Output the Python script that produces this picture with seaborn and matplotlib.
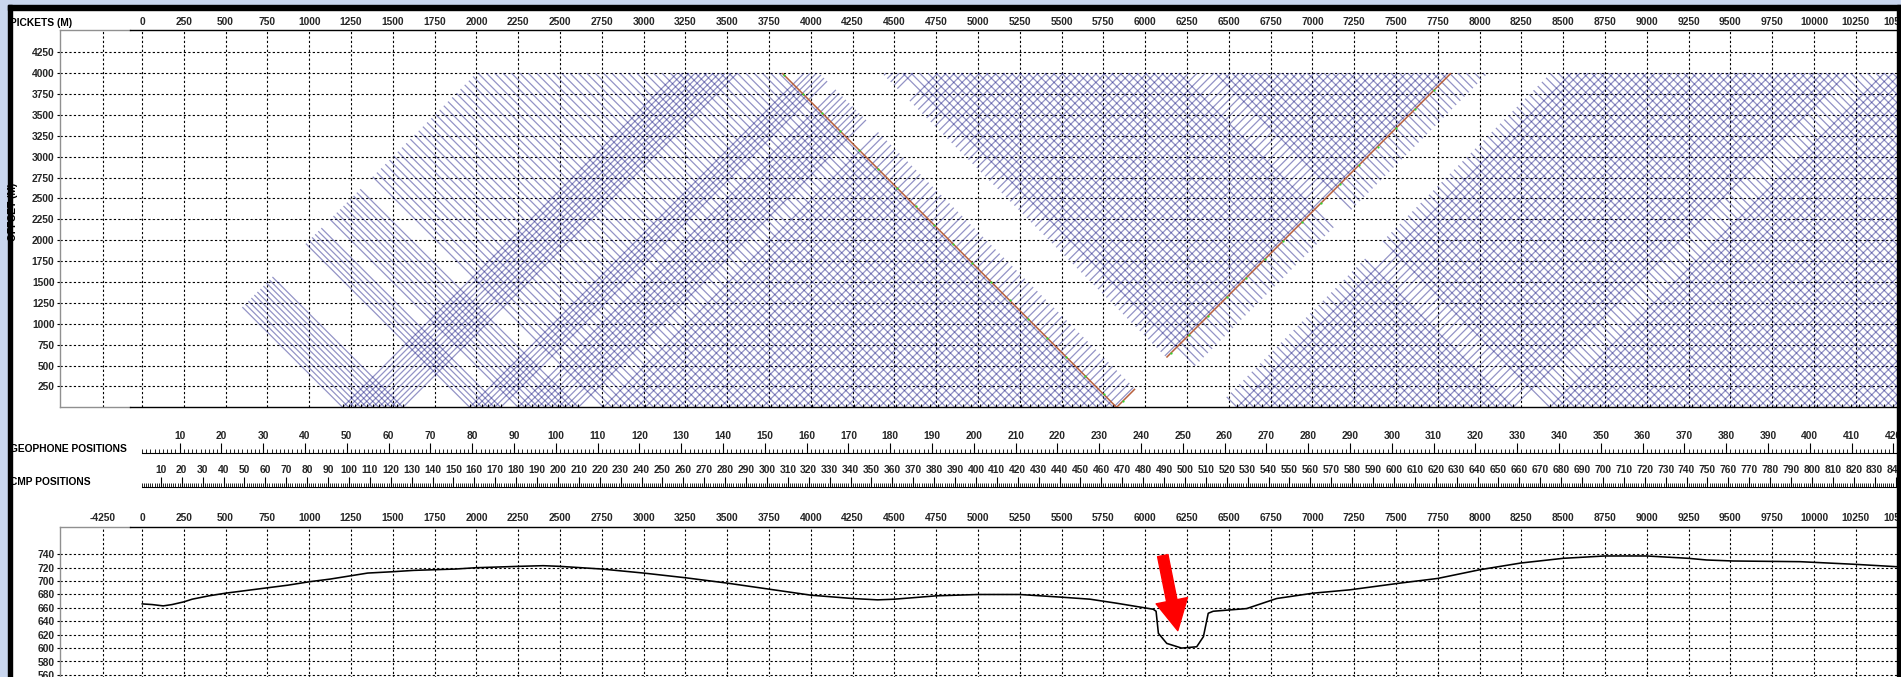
import numpy as np
import pandas as pd
import matplotlib
matplotlib.use("Agg")
import matplotlib.pyplot as plt
from matplotlib.collections import LineCollection
from matplotlib.patches import Rectangle
from matplotlib.ticker import FixedLocator
import seaborn as sns

sns.set_theme(style="white")
plt.rcParams["font.family"] = ["Liberation Sans", "DejaVu Sans"]
plt.rcParams["font.weight"] = "bold"
plt.rcParams["font.size"] = 7.4

# ---------------------------------------------------------------- survey data
picket_ticks = list(range(0, 10501, 250))
offset_ticks = list(range(250, 4251, 250))
elev_ticks = list(range(560, 741, 20))
geophone_ticks = list(range(10, 421, 10))
cmp_ticks = list(range(10, 841, 10))
stub_picket = -4250

geophone_first, geophone_last, geophone_spacing = 1, 580, 25.0
cmp_first, cmp_last, cmp_spacing = 1, 1160, 12.5
receiver_gap = (6060.0, 6420.0)       # no geophones laid across the ravine
max_offset = 4000.0

# shot groups along the line (first picket, last picket, interval)
shot_first = [1200, 1960, 2250, 2760, 6550, 8420]
shot_last = [1560, 2180, 2610, 5829, 8200, 14500]
shot_step = [36, 37, 40, 50, 50, 50]
highlight_shot = 5829

# surface elevation along the line
profile_dist = [0, 60, 127, 180, 250, 300, 400, 500, 625, 750, 875, 1000, 1125,
                1250, 1350, 1500, 1625, 1750, 1875, 2000, 2250, 2400, 2500,
                2750, 3000, 3250, 3500, 3750, 4000, 4250, 4400, 4500, 4750,
                5000, 5250, 5500, 5670, 5829, 6048, 6065, 6079, 6129, 6218,
                6308, 6348, 6377, 6407, 6607, 6786, 7005, 7225, 7524, 7750,
                8002, 8247, 8500, 8748, 9000, 9248, 9358, 9517, 9916, 10249,
                10494, 10600]
profile_elev = [666, 665, 663, 665, 669, 673, 678, 682, 686, 690, 694, 699, 703,
                708, 712, 714, 716, 717, 718, 720, 722, 723, 722,
                718, 712, 705, 697, 688, 679, 674, 672, 673, 678,
                680, 680, 676, 673, 667, 658, 655, 622, 607, 600,
                602, 617, 652, 655, 659, 674, 682, 687, 697, 704,
                717, 727, 734, 737.5, 737.5, 734, 731.5, 730, 729, 725,
                721.5, 720.5]

# ---------------------------------------------------------------- geometry
W, H = 1901, 677
fig = plt.figure(figsize=(W / 100, H / 100), dpi=100, facecolor="#c9d6ee")

X0_PX, XS = 142.0, 0.1672          # pixel of picket 0, pixels per metre


def rect(left, top, right, bottom):
    return [left / W, 1 - bottom / H, (right - left) / W, (bottom - top) / H]


def main_xlim():
    return ((130 - X0_PX) / XS, (W - X0_PX) / XS)


def stub_xlim():
    return (stub_picket - (103 - 60) / XS, stub_picket + (130 - 103) / XS)


# page background and window frame
fig.add_artist(Rectangle((12 / W, 0), (1897 - 12) / W, 1 - 10 / H,
                         transform=fig.transFigure, color="white", zorder=-5))
for l, t, r, b in [(8, 5, 12, H), (8, 5, W, 10), (1897, 5, W, H)]:
    fig.add_artist(Rectangle((l / W, 1 - b / H), (r - l) / W, (b - t) / H,
                             transform=fig.transFigure, color="black", zorder=10))

grid_kw = dict(color="black", linestyle=(0, (2, 2)), linewidth=0.8)
label_kw = dict(fontsize=7.4, fontweight="bold", color="black")


def bold(ax):
    for t in ax.get_xticklabels() + ax.get_yticklabels():
        t.set_fontweight("bold")


def style_pair(stub, main, yticks, ylim, stub_label):
    for ax in (stub, main):
        ax.set_facecolor("none")
        ax.set_yticks(yticks)
        ax.set_ylim(*ylim)
        ax.grid(True, **grid_kw)
        ax.set_axisbelow(True)
        ax.xaxis.tick_top()
        ax.spines["right"].set_visible(False)
    stub.set_xticks([stub_picket])
    stub.set_xticklabels([stub_label])
    stub.set_xlim(*stub_xlim())
    stub.set_yticklabels([str(v) for v in yticks])
    for sp in ("top", "bottom", "left"):
        stub.spines[sp].set_color("#909090")
        stub.spines[sp].set_linewidth(1.0)
    stub.tick_params(axis="x", length=0, pad=2.5, labelsize=7.4)
    stub.tick_params(axis="y", length=2.5, width=0.8, pad=1.5, labelsize=7.4,
                     left=True, color="black")
    main.set_xticks(picket_ticks)
    main.set_xlim(*main_xlim())
    main.set_yticklabels([])
    main.spines["left"].set_visible(False)
    for sp in ("top", "bottom"):
        main.spines[sp].set_color("black")
        main.spines[sp].set_linewidth(1.0)
    main.tick_params(axis="x", length=0, pad=2.5, labelsize=7.4)
    main.tick_params(axis="y", length=0)
    bold(stub)
    bold(main)


# ---------------------------------------------------------------- stacking chart
stack_ylim = (0, (407.3 - 30) / 0.08353)
ax_sstub = fig.add_axes(rect(60, 30, 130, 407.3))
ax_stack = fig.add_axes(rect(130, 30, W, 407.3))
style_pair(ax_sstub, ax_stack, offset_ticks, stack_ylim, "")

receivers = (np.arange(geophone_first, geophone_last + 1) - 1) * geophone_spacing
live = receivers[(receivers < receiver_gap[0]) | (receivers > receiver_gap[1])]
breaks = np.where(np.diff(live) > 1.5 * geophone_spacing)[0]
run_lo = np.r_[live[0], live[breaks + 1]]
run_hi = np.r_[live[breaks], live[-1]]

shots = np.concatenate([np.arange(f, l + 1, st) for f, l, st in
                        zip(shot_first, shot_last, shot_step)]).astype(float)


def shot_segments(s):
    segs = []
    for lo, hi in zip(run_lo, run_hi):
        a, b = max(lo, s - max_offset), min(hi, s)
        if b > a:
            segs.append([((s + a) / 2, s - a), ((s + b) / 2, s - b)])
        a, b = max(lo, s), min(hi, s + max_offset)
        if b > a:
            segs.append([((s + a) / 2, a - s), ((s + b) / 2, b - s)])
    return segs


all_segs = [seg for s in shots for seg in shot_segments(s)]
ax_stack.add_collection(LineCollection(all_segs, colors="#101080", alpha=0.45,
                                       linewidths=0.9, zorder=2))
ax_stack.vlines(shots, 0, 45, color="black", lw=0.8, zorder=3)

hl = shot_segments(float(highlight_shot))
ax_stack.add_collection(LineCollection(hl, colors="#b8603c", linewidths=1.1,
                                       zorder=4))
hr = live[np.abs(live - highlight_shot) <= max_offset][::9]
ax_stack.scatter((hr + highlight_shot) / 2, np.abs(hr - highlight_shot), s=2.5,
                 color="#2fd82f", zorder=5, linewidths=0)
ax_stack.set_xlim(*main_xlim())
ax_stack.set_ylim(*stack_ylim)

# ---------------------------------------------------------------- position rulers
def ruler(top_px, first, last, spacing, ticks, major_len, minor_len):
    n_right = first + (W - X0_PX) / (spacing * XS)
    ax = fig.add_axes(rect(X0_PX, top_px, W, top_px + 1))
    ax.set_facecolor("none")
    ax.set_yticks([])
    for sp in ("left", "right", "bottom"):
        ax.spines[sp].set_visible(False)
    ax.spines["top"].set_color("black")
    ax.spines["top"].set_linewidth(0.8)
    ax.xaxis.tick_top()
    ax.set_xticks(ticks)
    ax.xaxis.set_minor_locator(FixedLocator(list(range(first, last + 1))))
    ax.set_xlim(first, n_right)
    ax.tick_params(axis="x", which="major", direction="out", length=major_len,
                   width=0.8, pad=1.5, labelsize=7.4, color="black")
    ax.tick_params(axis="x", which="minor", direction="out", length=minor_len,
                   width=0.6, color="black")
    bold(ax)
    return ax


ruler(453.3, geophone_first, geophone_last, geophone_spacing, geophone_ticks, 7.0, 2.8)
ruler(486.7, cmp_first, cmp_last, cmp_spacing, cmp_ticks, 7.0, 3.2)

fig.text(10 / W, 1 - 23 / H, "PICKETS (M)", ha="left", va="center", **label_kw)
fig.text(12.5 / W, 1 - 212 / H, "OFFSET (M)", ha="center", va="center",
         rotation=90, **label_kw)
fig.text(10 / W, 1 - 449 / H, "GEOPHONE POSITIONS", ha="left", va="center", **label_kw)
fig.text(10 / W, 1 - 482 / H, "CMP POSITIONS", ha="left", va="center", **label_kw)

# ---------------------------------------------------------------- elevation profile
prof_ylim = (740 - (690 - 554.3) / 0.67, 740 + (554.3 - 526.7) / 0.67)
ax_pstub = fig.add_axes(rect(60, 526.7, 130, 690))
ax_prof = fig.add_axes(rect(130, 526.7, W, 690))
style_pair(ax_pstub, ax_prof, elev_ticks, prof_ylim, str(stub_picket))

profile = pd.DataFrame({"picket": profile_dist, "elevation": profile_elev})
sns.lineplot(data=profile, x="picket", y="elevation", ax=ax_prof,
             color="black", lw=1.15, zorder=3)
ax_prof.set_xlabel("")
ax_prof.set_ylabel("")
ax_prof.set_xlim(*main_xlim())
ax_prof.set_ylim(*prof_ylim)

ax_prof.annotate("", xy=(6195, 626), xytext=(6105, 738),
                 arrowprops=dict(arrowstyle="simple,head_length=1.1,head_width=1.15,tail_width=0.38",
                                 color="#ff0000", shrinkA=0, shrinkB=0,
                                 mutation_scale=20), zorder=6)

fig.savefig("out.png", dpi=100, facecolor=fig.get_facecolor())
